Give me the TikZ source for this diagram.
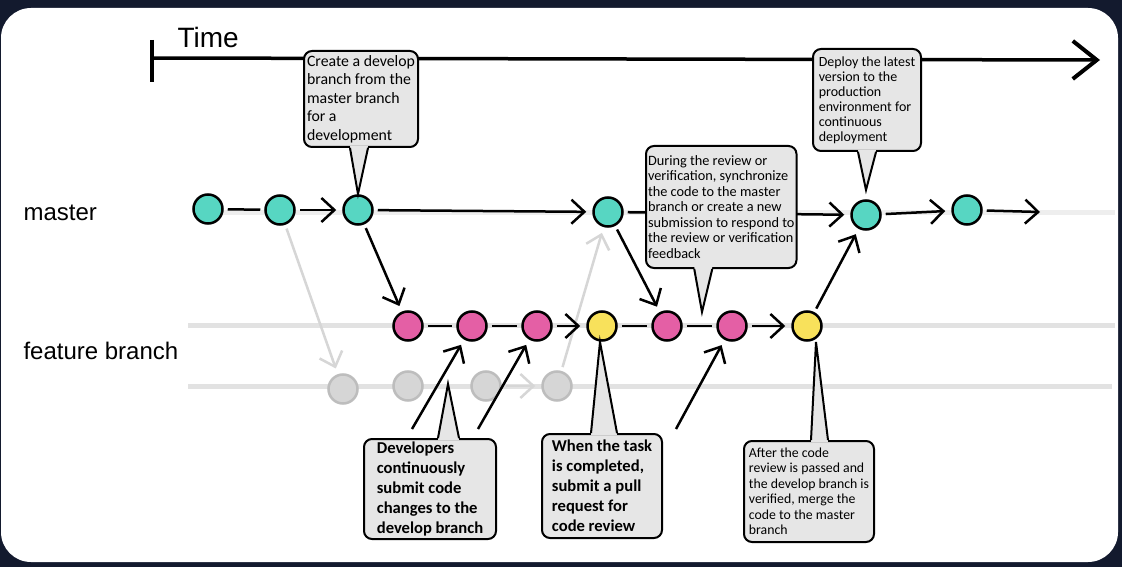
\documentclass[tikz,border=0pt]{standalone}
\usepackage{fontspec}
\setmainfont{Liberation Sans}
\newfontfamily\callfont{Carlito}
\usetikzlibrary{arrows.meta}

\definecolor{navy}{HTML}{131A2E}
\definecolor{tealc}{HTML}{57D6C2}
\definecolor{pinkc}{HTML}{E45FA5}
\definecolor{yellowc}{HTML}{F8E15B}
\definecolor{ghostfill}{HTML}{D6D6D6}
\definecolor{ghostline}{HTML}{BDBDBD}
\definecolor{trackgray}{HTML}{E2E2E2}
\definecolor{bubblegray}{HTML}{E6E6E6}

\begin{document}
\begin{tikzpicture}[x=1pt,y=-1pt]

\tikzset{%
  commit/.style     = {circle,draw=black,line width=2.5pt,minimum size=29pt,inner sep=0pt},
  mastercommit/.style = {commit,fill=tealc},
  featcommit/.style = {commit,fill=pinkc},
  prcommit/.style   = {commit,fill=yellowc},
  oldcommit/.style  = {commit,draw=ghostline,fill=ghostfill},
  link/.style       = {line width=2.5pt,shorten <=4pt,shorten >=4pt},
  flow/.style       = {link,-{Straight Barb[length=13pt,width=24pt]},shorten >=6pt},
  ghost/.style      = {flow,draw=ghostfill},
  track/.style      = {line width=5pt,draw=trackgray},
  bubble/.style     = {draw=black,line width=2pt,rounded corners=8pt,fill=bubblegray,
                       anchor=north west,align=left,inner sep=2pt},
  pointer/.style    = {draw=black,line width=2pt},
}

% background card
\fill[navy] (0,0) rectangle (1122,567);
\useasboundingbox (0,0) rectangle (1122,567);
\fill[white,rounded corners=30pt] (1,8) rectangle (1118,562);

% time axis
\coordinate (ttop)  at (152,40);
\coordinate (tbot)  at (152,82);
\coordinate (tzero) at (152,58);
\coordinate (tend)  at (1100,60);
\draw[line width=4.5pt] (ttop) -- (tbot);
\draw[line width=3.5pt,-{Straight Barb[length=24pt,width=38pt,line width=4pt]}] (tzero) -- (tend);
\node[anchor=base west,font=\fontsize{28}{30}\selectfont] (time) at (174,48) {Time};

% branch labels
\node[anchor=base west,font=\fontsize{24}{26}\selectfont] (masterlbl)  at (20,220) {master};
\node[anchor=base west,font=\fontsize{24}{26}\selectfont] (featurelbl) at (20,359) {feature branch};

% tracks
\draw[track,draw=trackgray!60] (200,212) -- (1115,212);
\draw[track] (188,325) -- (1115,325);
\draw[track] (188,386) -- (1112,386);

% commits
\node[mastercommit] (m1) at (208,209) {};
\node[mastercommit] (m2) at (280,210) {};
\node[mastercommit] (m3) at (358,210) {};
\node[mastercommit] (m4) at (608,212) {};
\node[mastercommit] (m5) at (866,215) {};
\node[mastercommit] (m6) at (967,210) {};
\coordinate (mend) at (1040,212);

\node[featcommit] (p1) at (408,326) {};
\node[featcommit] (p2) at (472,326) {};
\node[featcommit] (p3) at (537,326) {};
\node[prcommit]   (y1) at (602,326) {};
\node[featcommit] (p4) at (667,326) {};
\node[featcommit] (p5) at (732,326) {};
\node[prcommit]   (y2) at (807,326) {};

\node[oldcommit] (g1) at (343,389) {};
\node[oldcommit] (g2) at (408,386) {};
\node[oldcommit] (g3) at (486,386) {};
\node[oldcommit] (g4) at (557,386) {};

% old history
\draw[ghost] (m2) -- (g1);
\draw[ghost] (g3) -- (g4);
\draw[ghost] (g4) -- (m4);

% master
\draw[link] (m1) -- (m2);
\draw[flow] (m2) -- (m3);
\draw[flow] (m3) -- (m4);
\draw[flow] (m4) -- (m5);
\draw[flow] (m5) -- (m6);
\draw[flow,shorten >=0pt] (m6) -- (mend);

% feature branch
\draw[flow] (m3) -- (p1);
\draw[link] (p1) -- (p2);
\draw[link] (p2) -- (p3);
\draw[flow] (p3) -- (y1);
\draw[link] (y1) -- (p4);
\draw[link] (p4) -- (p5);
\draw[flow] (p5) -- (y2);
\draw[flow] (m4) -- (p4);
\draw[flow] (y2) -- (m5);

% developer pushes
\coordinate (push1) at (412,429);
\coordinate (push2) at (478,429);
\coordinate (push3) at (676,429);
\draw[flow,shorten <=0pt] (push1) -- (p2);
\draw[flow,shorten <=0pt] (push2) -- (p3);
\draw[flow,shorten <=0pt] (push3) -- (p5);

% callouts
\node[bubble,font={\callfont\fontsize{15.8}{18.5}\selectfont},minimum width=114pt,minimum height=96pt]
  (devnote) at (303,50) {Create a develop\\branch from the\\master branch\\for a\\development};
\coordinate (devtip) at (358,194);
\fill[bubblegray] ([xshift=-11pt,yshift=2pt]devnote.south) -- (devtip) -- ([xshift=7pt,yshift=2pt]devnote.south) -- cycle;
\draw[pointer] ([xshift=-11pt]devnote.south) -- (devtip) -- ([xshift=7pt]devnote.south);

\node[bubble,font={\callfont\fontsize{14.3}{15.5}\selectfont},minimum width=150pt,minimum height=122pt]
  (syncnote) at (645,145) {During the review or\\verification, synchronize\\the code to the master\\branch or create a new\\submission to respond to\\the review or verification\\feedback};
\coordinate (synctip) at (702,312);
\fill[bubblegray] ([xshift=-27pt,yshift=2pt]syncnote.south) -- (synctip) -- ([xshift=-9pt,yshift=2pt]syncnote.south) -- cycle;
\draw[pointer] ([xshift=-27pt]syncnote.south) -- (synctip) -- ([xshift=-9pt]syncnote.south);

\node[bubble,font={\callfont\fontsize{14}{15}\selectfont},minimum width=108pt,minimum height=102pt]
  (deploynote) at (812,48) {Deploy the latest\\version to the\\production\\environment for\\continuous\\deployment};
\coordinate (deploytip) at (866,190);
\fill[bubblegray] ([xshift=-9pt,yshift=2pt]deploynote.south) -- (deploytip) -- ([xshift=9pt,yshift=2pt]deploynote.south) -- cycle;
\draw[pointer] ([xshift=-9pt]deploynote.south) -- (deploytip) -- ([xshift=9pt]deploynote.south);

\node[bubble,font={\callfont\bfseries\fontsize{16.6}{20}\selectfont},minimum width=132pt,minimum height=100pt]
  (pushnote) at (363,438) {Developers\\continuously\\submit code\\changes to the\\develop branch};
\coordinate (pushtip) at (448,384);
\fill[bubblegray] ([xshift=8pt,yshift=-2pt]pushnote.north) -- (pushtip) -- ([xshift=29pt,yshift=-2pt]pushnote.north) -- cycle;
\draw[pointer] ([xshift=8pt]pushnote.north) -- (pushtip) -- ([xshift=29pt]pushnote.north);

\node[bubble,font={\callfont\bfseries\fontsize{16.6}{20}\selectfont},minimum width=120pt,minimum height=104pt]
  (prnote) at (541,433) {When the task\\is completed,\\submit a pull\\request for\\code review};
\coordinate (prtip) at (600,342);
\fill[bubblegray] ([xshift=-11pt,yshift=-2pt]prnote.north) -- (prtip) -- ([xshift=15pt,yshift=-2pt]prnote.north) -- cycle;
\draw[pointer] ([xshift=-11pt]prnote.north) -- (prtip) -- ([xshift=15pt]prnote.north);

\node[bubble,font={\callfont\fontsize{13.8}{15.5}\selectfont},minimum width=130pt,minimum height=101pt]
  (mergenote) at (743,440) {After the code\\review is passed and\\the develop branch is\\verified, merge the\\code to the master\\branch};
\coordinate (mergetip) at (816,342);
\fill[bubblegray] ([xshift=2pt,yshift=-2pt]mergenote.north) -- (mergetip) -- ([xshift=19pt,yshift=-2pt]mergenote.north) -- cycle;
\draw[pointer] ([xshift=2pt]mergenote.north) -- (mergetip) -- ([xshift=19pt]mergenote.north);

\end{tikzpicture}
\end{document}
